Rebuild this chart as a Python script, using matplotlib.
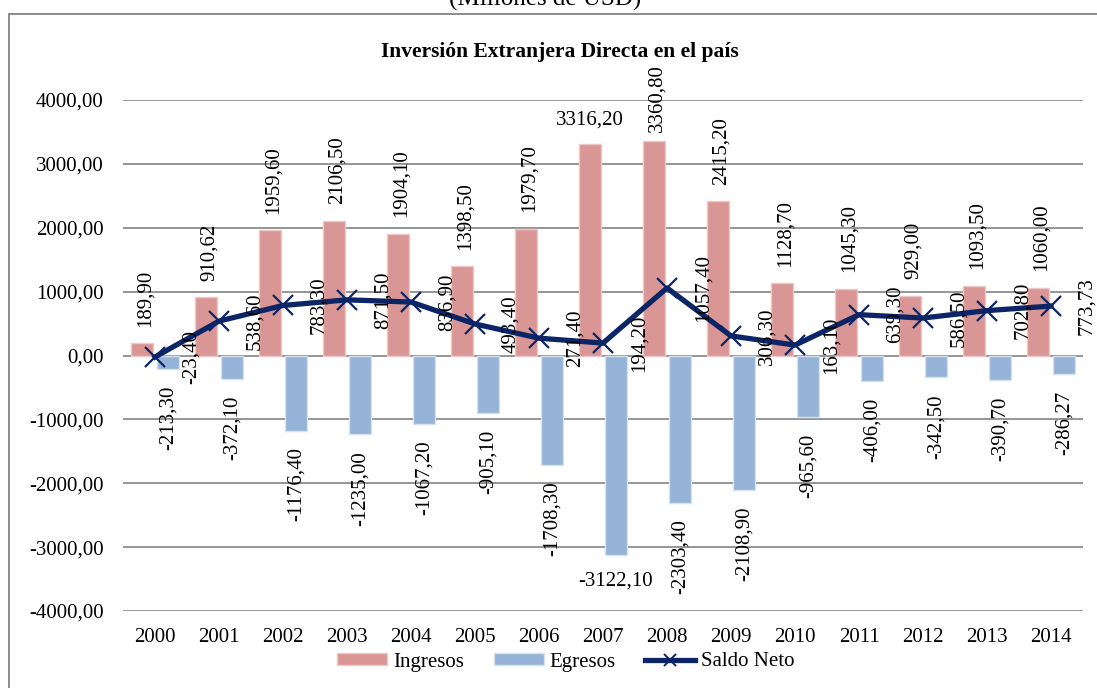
import matplotlib
matplotlib.use("Agg")
import matplotlib.pyplot as plt
from matplotlib.patches import Rectangle
from matplotlib.lines import Line2D
import numpy as np

years = ["2000", "2001", "2002", "2003", "2004", "2005", "2006", "2007",
         "2008", "2009", "2010", "2011", "2012", "2013", "2014"]
ingresos = [189.90, 910.62, 1959.60, 2106.50, 1904.10, 1398.50, 1979.70, 3316.20,
            3360.80, 2415.20, 1128.70, 1045.30, 929.00, 1093.50, 1060.00]
egresos = [-213.30, -372.10, -1176.40, -1235.00, -1067.20, -905.10, -1708.30, -3122.10,
           -2303.40, -2108.90, -965.60, -406.00, -342.50, -390.70, -286.27]
saldo = [-23.40, 538.60, 783.30, 871.50, 836.90, 493.40, 271.40, 194.20,
         1057.40, 306.30, 163.10, 639.30, 586.50, 702.80, 773.73]
yticks = [-4000, -3000, -2000, -1000, 0, 1000, 2000, 3000, 4000]

FONT = "Liberation Serif"
plt.rcParams["font.family"] = [FONT, "DejaVu Serif"]

C_ING = "#D99694"
C_EGR = "#95B3D7"
C_NET = "#0B2566"
C_GRID = "#8C8C8C"


def fmt(v):
    return f"{v:.2f}".replace(".", ",")


fig = plt.figure(figsize=(10.97, 6.88), dpi=100)
W, H = 1097, 688
ax = fig.add_axes([123 / W, 1 - 611 / H, (1083 - 123) / W, (611 - 100) / H])

x = np.arange(len(years))
bw = 0.35
b1 = ax.bar(x - 0.2, ingresos, width=bw, color=C_ING, edgecolor="#EBC9C8", linewidth=1.0,
            label="Ingresos", zorder=2)
b2 = ax.bar(x + 0.2, egresos, width=bw, color=C_EGR, edgecolor="#D5E1EF", linewidth=1.0,
            label="Egresos", zorder=2)
ax.plot(x, saldo, color=C_NET, linewidth=3.8, marker="x", markersize=14,
        markeredgewidth=1.6, label="Saldo Neto", zorder=4)

ax.set_xlim(-0.5, len(years) - 0.5)
ax.set_ylim(-4000, 4000)
ax.set_yticks(yticks)
ax.set_yticklabels([fmt(v) for v in yticks])
ax.set_xticks(x)
ax.set_xticklabels(years)
ax.tick_params(axis="both", length=0, labelsize=15)
ax.tick_params(axis="y", pad=14)
ax.tick_params(axis="x", pad=12)
for s in ax.spines.values():
    s.set_visible(False)
ax.grid(axis="y", color=C_GRID, linewidth=1.3, zorder=0)
ax.set_axisbelow(True)

# data labels
for i, v in enumerate(ingresos):
    if years[i] == "2007":
        ax.annotate(fmt(v), (i - 0.2, v), xytext=(0, 10), textcoords="offset points",
                    ha="center", va="bottom", fontsize=15)
    else:
        off = 6 if years[i] == "2008" else 12
        ax.annotate(fmt(v), (i - 0.2, v), xytext=(2, off), textcoords="offset points",
                    ha="center", va="bottom", rotation=90, fontsize=15)
for i, v in enumerate(egresos):
    if years[i] == "2007":
        ax.annotate(fmt(v), (i + 0.2, v), xytext=(0, -12), textcoords="offset points",
                    ha="center", va="top", fontsize=15)
    else:
        ax.annotate(fmt(v), (i + 0.2, v), xytext=(0, -12), textcoords="offset points",
                    ha="center", va="top", rotation=90, fontsize=15)
for i, v in enumerate(saldo):
    ax.annotate(fmt(v), (i, v), xytext=(26, 0), textcoords="offset points",
                ha="center", va="center", rotation=90, fontsize=15, zorder=5)

# titles
fig.text(545 / W, 1 - 6 / H, "(Millones de USD)", ha="center", va="baseline", fontsize=18)
fig.text(560 / W, 1 - 52 / H, "Inversión Extranjera Directa en el país", ha="center",
         va="center", fontsize=15.5, fontweight="bold")

# chart border
fig.patches.append(Rectangle((9 / W, -0.05), 1.2, 1 - 14 / H + 0.05, transform=fig.transFigure,
                             fill=False, edgecolor="#8C8C8C", linewidth=1.4))

net_handle = Line2D([], [], color=C_NET, linewidth=3.8, marker="x", markersize=8,
                    markeredgewidth=1.4)
fig.legend([b1, b2, net_handle], ["Ingresos", "Egresos", "Saldo Neto"],
           loc="center", bbox_to_anchor=(566 / W, 1 - 662 / H), ncol=3, frameon=False,
           fontsize=15, handlelength=2.4, handleheight=0.5, handletextpad=0.3,
           columnspacing=1.4, borderpad=0)

fig.savefig("out.png", dpi=100)
